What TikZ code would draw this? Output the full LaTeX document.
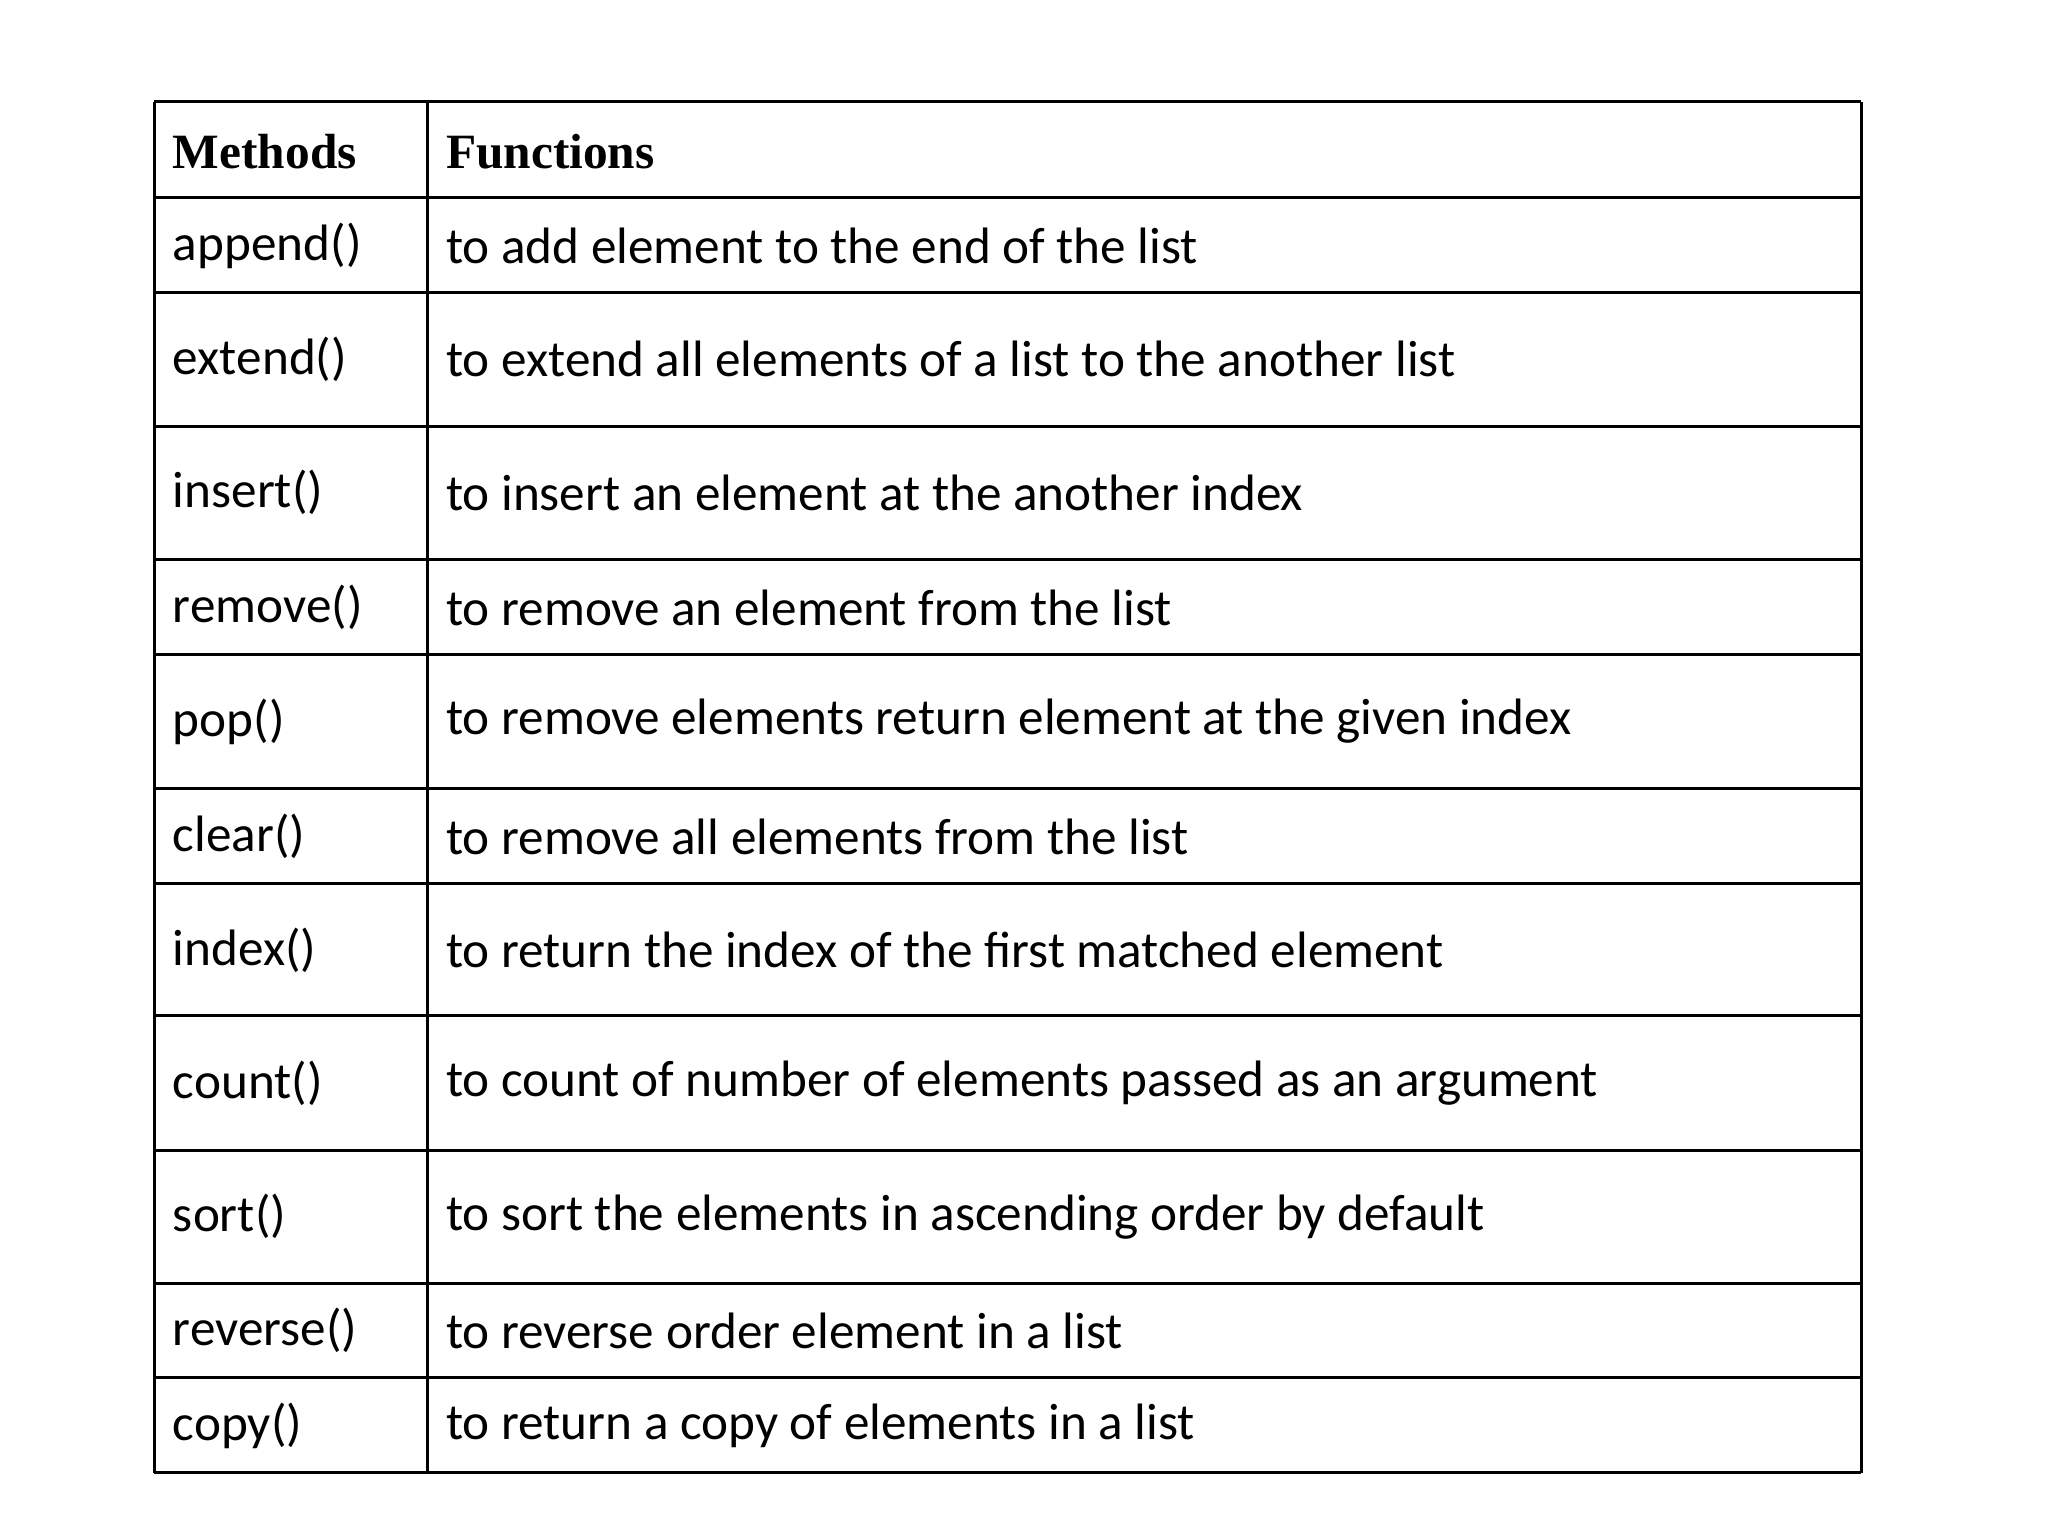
\documentclass[tikz,border=0pt]{standalone}
\usepackage{fontspec}
\setmainfont{Carlito}
\newfontfamily\headfont{Liberation Serif}
\begin{document}
\begin{tikzpicture}[x=0.02cm,y=-0.02cm,
  cell/.style={anchor=west,inner sep=0pt,font=\fontsize{22.3}{26}\selectfont},
  headcell/.style={anchor=west,inner sep=0pt,font=\headfont\bfseries\fontsize{21.5}{26}\selectfont},
  rule/.style={line width=1.3pt}]
\useasboundingbox (0,0) rectangle (1567,1175);
% grid lines
\foreach \y in {78,151,224,326,428,501,603,676,777,880,982,1054,1127}
  \draw[rule] (118,\y) -- (1424,\y);
\foreach \x in {118,327,1424}
  \draw[rule] (\x,78) -- (\x,1127);
% header
\node[headcell] (hm) at (132,116) {Methods};
\node[headcell] (hf) at (341,116) {Functions};
% rows
\foreach \n/\y/\m/\f in {
  1/188/append()/to add element to the end of the list,
  2/275/extend()/to extend all elements of a list to the another list,
  3/377/insert()/to insert an element at the another index,
  4/465/remove()/to remove an element from the list,
  5/552/pop()/to remove elements return element at the given index,
  6/640/clear()/to remove all elements from the list,
  7/727/index()/to return the index of the first matched element,
  8/829/count()/to count of number of elements passed as an argument,
  9/931/sort()/to sort the elements in ascending order by default,
  10/1018/reverse()/to reverse order element in a list,
  11/1091/copy()/to return a copy of elements in a list}
{
  \node[cell] (m\n) at (132,\y) {\m};
  \node[cell] (f\n) at (341,\y) {\f};
}
\end{tikzpicture}
\end{document}
